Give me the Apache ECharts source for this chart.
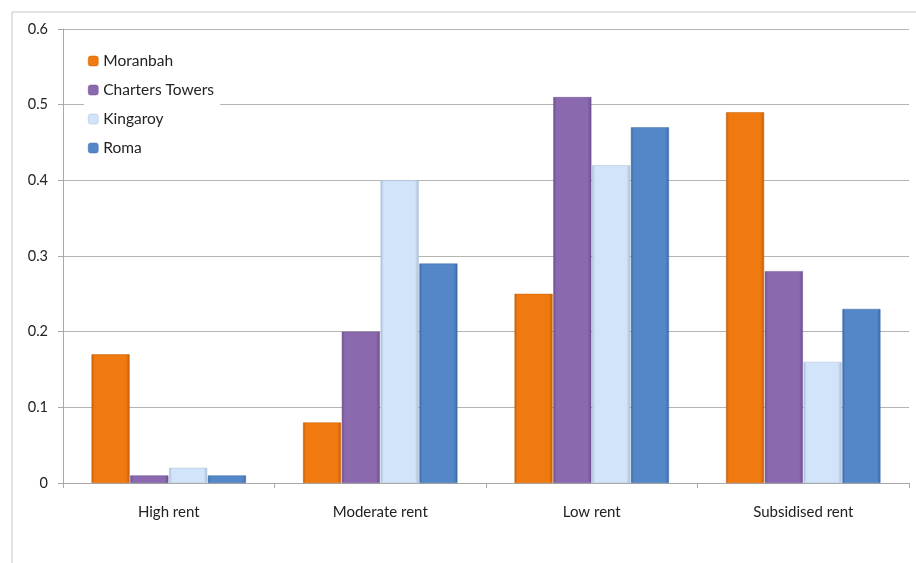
<!DOCTYPE html>
<html>
<head>
<meta charset="utf-8">
<script src="https://cdn.jsdelivr.net/npm/echarts@6/dist/echarts.min.js"></script>
<style>
html,body{margin:0;padding:0;background:#fff;}
#chart{width:916px;height:563px;}
</style>
</head>
<body>
<div id="chart"></div>
<script>
var categories = ['High rent', 'Moderate rent', 'Low rent', 'Subsidised rent'];
var seriesNames = ['Moranbah', 'Charters Towers', 'Kingaroy', 'Roma'];
var moranbah = [0.17, 0.08, 0.25, 0.49];
var chartersTowers = [0.01, 0.20, 0.51, 0.28];
var kingaroy = [0.02, 0.40, 0.42, 0.16];
var roma = [0.01, 0.29, 0.47, 0.23];
var yTicks = [0, 0.1, 0.2, 0.3, 0.4, 0.5, 0.6];

var seriesData = [moranbah, chartersTowers, kingaroy, roma];
var baseColors = ['#f07a10', '#8a69ae', '#d2e4f9', '#5487c8'];
var edgeColors = ['#c45f08', '#6c4f90', '#a9bfd8', '#3d6aa6'];

function barGradient(i){
	return new echarts.graphic.LinearGradient(0, 0, 1, 0, [
		{offset:0, color:edgeColors[i]},
		{offset:0.08, color:baseColors[i]},
		{offset:0.9, color:baseColors[i]},
		{offset:1, color:edgeColors[i]}
	]);
}

var series = [];
for(var i=0;i<seriesNames.length;i++){
	series.push({
		name:seriesNames[i],
		type:'bar',
		barGap:'2%',
		barCategoryGap:'27%',
		itemStyle:{
			color:barGradient(i),
			borderColor:edgeColors[i],
			borderWidth:0.5
		},
		data:seriesData[i]
	});
}

var chart = echarts.init(document.getElementById('chart'));
chart.setOption({
	animation:false,
	color:baseColors,
	textStyle:{fontFamily:'Lato'},
	graphic:[
		{type:'line', shape:{x1:12, y1:12, x2:916, y2:12}, style:{stroke:'#c8c8c8', lineWidth:1}},
		{type:'line', shape:{x1:12, y1:12, x2:12, y2:563}, style:{stroke:'#c8c8c8', lineWidth:1}}
	],
	legend:{
		orient:'vertical',
		left:84,
		top:49,
		itemWidth:10,
		itemHeight:10,
		itemGap:13,
		padding:[4,6,4,4],
		backgroundColor:'#fff',
		textStyle:{color:'#222', fontSize:15.5, fontFamily:'Lato'},
		data:seriesNames.map(function(n, i){
			return {name:n, itemStyle:{color:baseColors[i], borderColor:edgeColors[i], borderWidth:0.5}};
		})
	},
	grid:{left:63, right:7, top:29, bottom:80},
	xAxis:{
		type:'category',
		data:categories,
		axisLine:{lineStyle:{color:'#a8a8a8'}},
		axisTick:{show:true, length:5, lineStyle:{color:'#a8a8a8'}},
		axisLabel:{color:'#222', fontSize:15, margin:22}
	},
	yAxis:{
		type:'value',
		min:yTicks[0],
		max:yTicks[yTicks.length-1],
		interval:0.1,
		axisLine:{show:true, lineStyle:{color:'#a8a8a8'}},
		axisTick:{show:true, length:5, lineStyle:{color:'#a8a8a8'}},
		splitLine:{lineStyle:{color:'#b4b4b4'}},
		axisLabel:{color:'#222', fontSize:14.5, margin:15,
			formatter:function(v){ return String(Math.round(v*10)/10); }}
	},
	series:series
});
</script>
</body>
</html>
